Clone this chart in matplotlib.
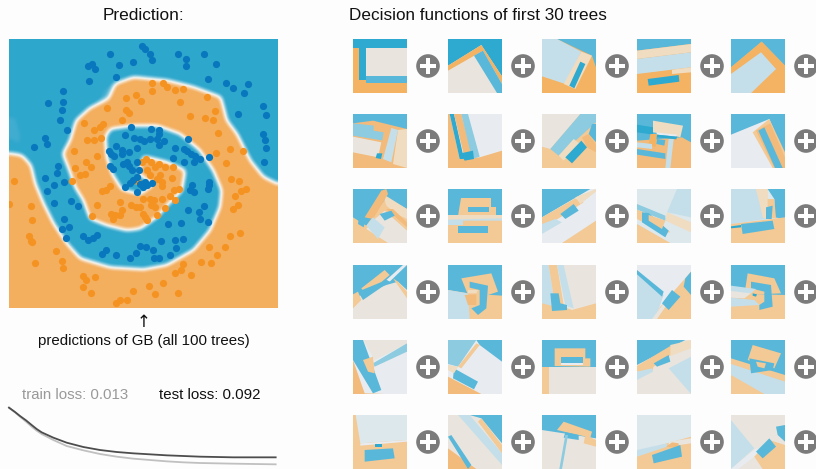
import matplotlib
matplotlib.use("Agg")
import matplotlib.pyplot as plt
import numpy as np
from matplotlib.patches import Polygon, Circle, Rectangle
from matplotlib.path import Path
from matplotlib.colors import LinearSegmentedColormap

W, H = 816, 469
BG = "#fdfdfd"
plt.rcParams["font.family"] = ["Liberation Sans", "DejaVu Sans"]

# palette
B = "#2ea9cf"; b = "#59b8d9"; m = "#8ccbe0"; l = "#c5dfea"; g = "#dde8ec"
p = "#e9e5de"; w = "#e8ecf0"; O = "#f4b263"; Q = "#f3bb7b"; o = "#f3c995"; c = "#f0dcc0"

blue_pts = [(427,47),(435,55),(450,70),(454,88),(330,72),(532,71),(558,87),(557,106),(610,71),(646,102),(398,94),(358,105),(276,100),(265,107),(284,117),(349,140),(266,151),(624,147),(676,158),(697,174),(743,160),(730,187),(190,183),(190,216),(144,219),(185,240),(180,268),(201,300),(789,227),(796,253),(712,250),(789,311),(793,329),(798,353),(792,394),(136,322),(142,342),(101,351),(173,406),(172,427),(134,444),(192,456),(161,463),(141,481),(163,519),(212,512),(235,527),(193,565),(185,597),(208,589),(199,623),(250,618),(264,629),(278,622),(292,615),(305,671),(318,659),(347,673),(390,682),(408,668),(421,648),(438,649),(459,660),(460,684),(475,683),(482,633),(508,673),(525,628),(528,652),(549,627),(503,581),(541,578),(563,538),(597,546),(598,566),(624,574),(611,527),(575,465),(570,478),(580,485),(622,475),(627,456),(625,465),
(393,291),(452,297),(476,298),(475,310),(376,315),(402,322),(420,326),(432,332),(450,326),(470,325),(490,333),(476,345),(563,325),(348,346),(326,362),(365,360),(365,372),(388,366),(410,352),(334,372),(342,378),(330,406),(340,416),(525,354),(550,355),(560,362),(572,370),(585,377),(600,386),(626,380),(519,384),(552,395),(582,395),
(380,395),(370,400),(388,408),(412,395),(395,420),(418,420),(410,440),(400,450),(375,470),(390,458),(420,460),(435,455),(455,458),(430,470),(410,486),(440,465)]

orange_pts = [(455,158),(488,159),(500,170),(524,178),(549,175),(454,183),(619,201),(540,216),(645,243),(570,256),(615,264),(638,268),(654,308),(647,367),(689,355),(727,362),(678,398),(691,445),(717,451),(737,475),(722,482),(705,498),(712,525),(698,535),(720,608),(689,617),(627,649),(673,650),(650,674),(633,697),(602,696),(549,701),(543,720),(524,728),(572,735),(489,757),(445,766),(400,782),(465,791),(533,788),(380,808),(360,810),(348,818),(284,740),(250,738),(258,748),(249,769),(273,788),(186,692),(188,714),(105,697),(168,661),(97,635),(87,618),(92,633),(97,570),(94,528),(43,451),(27,521),
(378,204),(407,195),(422,212),(322,233),(378,238),(388,249),(366,268),(310,280),(300,290),(282,300),(253,279),(262,330),(282,330),(302,324),(222,362),(290,377),(224,413),(259,395),(274,411),(240,433),(256,430),(215,451),(306,482),(318,480),(330,467),(290,523),(277,556),(332,550),(345,555),(340,567),(360,555),(367,540),(359,515),(392,525),(408,530),(420,530),(430,550),(435,560),(440,570),(470,555),(495,533),(430,507),(448,505),(460,510),(452,525),(465,530),(485,505),(510,497),(525,510),(520,480),(535,475),(515,442),(518,410),
(436,385),(425,395),(452,395),(475,400),(465,410),(495,410),(440,420),(450,435),(480,435),(470,445),(485,455),(485,468),(412,452)]

orange_region = [(20,368),(65,375),(92,405),(105,460),(130,520),(160,580),(200,640),(240,685),(330,712),(430,718),(500,705),(580,660),(630,600),(660,530),(665,480),(640,420),(600,360),(540,310),(470,285),(400,285),(330,295),(315,320),(320,380),(335,430),(365,478),(420,492),(462,462),(415,430),(430,378),(500,395),(555,420),(545,480),(505,520),(470,560),(420,595),(380,600),(320,585),(270,565),(250,510),(225,470),(208,420),(188,370),(210,330),(228,270),(270,232),(325,205),(345,160),(400,140),(500,150),(580,170),(662,200),(680,270),(710,310),(750,390),(790,440),(840,465),(840,840),(20,840)]
pale_patch = [(20,255),(50,250),(70,320),(60,355),(20,325)]
pale_patch_2 = [(300,175),(340,155),(325,205),(300,220)]

loss_x = [27,45,60,78,95,110,125,160,200,250,300,350,400,450,500,550,600,700,827]
test_loss = [293,306,318,331,345,357,367,383,398,411,420,426,430,433,436,438,440,442,442]
train_loss = [293,307,320,335,350,362,372,390,408,421,432,440,446,450,454,457,459,461,463]

tile_x = [353, 448, 542, 637, 731]
tile_y = [39, 114, 189, 265, 340, 415]

tile_00 = (O, [(B,[(0,0),(162,0),(162,27),(0,27)]),(B,[(18,27),(40,27),(40,123),(18,123)]),(p,[(40,27),(162,27),(162,110),(40,110)]),(b,[(40,110),(162,110),(162,132),(40,132)])])
tile_01 = (p, [(B,[(0,0),(162,0),(162,112),(100,18),(0,80)]),(O,[(0,80),(100,18),(162,112),(162,135),(105,35),(0,95)]),(b,[(78,50),(105,35),(162,135),(162,162),(147,162)])])
tile_02 = (O, [(b,[(45,0),(162,0),(162,85),(150,50)]),(l,[(0,0),(45,0),(118,38),(70,135),(0,112)]),(c,[(118,38),(150,50),(100,150),(65,135)]),(B,[(115,68),(130,75),(97,148),(82,140)])])
tile_03 = (O, [(b,[(0,0),(162,0),(162,15),(0,35)]),(c,[(0,35),(162,15),(162,40),(0,60)]),(l,[(0,60),(162,40),(162,85),(105,92),(0,105)]),(c,[(105,92),(162,85),(162,100),(105,105)]),(B,[(32,120),(125,108),(127,128),(35,140)])])
tile_04 = (Q, [(b,[(0,0),(162,0),(162,80),(92,8),(0,85)]),(O,[(0,85),(92,8),(162,80),(162,162),(62,162),(135,90),(90,40),(0,105)]),(l,[(0,105),(90,40),(135,90),(60,162),(0,162)])])
tile_05 = (Q, [(b,[(0,0),(162,0),(162,45),(60,20),(0,28)]),(m,[(0,28),(65,35),(95,45),(92,80),(0,65)]),(p,[(0,68),(85,85),(75,130),(0,115)]),(Q,[(62,22),(115,38),(95,130),(80,130),(92,55),(62,50)]),(c,[(135,48),(162,45),(162,162),(120,150)]),(l,[(115,42),(135,48),(115,145),(90,135)]),(B,[(72,118),(88,118),(84,135),(68,132)])])
tile_06 = (w, [(Q,[(0,0),(5,0),(35,135),(95,130),(162,110),(162,162),(0,162)]),(B,[(5,0),(18,0),(48,135),(35,135)]),(Q,[(18,0),(40,0),(70,115),(48,125)]),(m,[(40,0),(60,0),(95,128),(72,135)]),(B,[(38,118),(75,110),(78,135),(50,140)])])
tile_07 = (o, [(p,[(0,0),(115,0),(25,105),(0,98)]),(m,[(115,0),(162,0),(162,25),(50,125),(25,105)]),(b,[(150,30),(162,30),(162,85),(140,60)]),(c,[(50,125),(95,75),(115,90),(65,140)]),(Q,[(120,70),(140,60),(162,90),(162,115),(135,100)]),(B,[(70,130),(118,80),(135,100),(90,148)])])
tile_08 = (Q, [(b,[(0,0),(162,0),(162,85),(135,70),(0,80)]),(B,[(0,32),(50,40),(48,62),(0,55)]),(c,[(48,20),(138,35),(130,70),(100,62),(48,55)]),(O,[(40,60),(60,60),(55,100),(35,90)]),(w,[(58,55),(120,62),(118,68),(60,62)]),(B,[(60,62),(120,68),(118,76),(60,70)]),(b,[(60,75),(85,78),(82,95),(58,90)]),(l,[(95,75),(110,75),(100,162),(85,162)]),(l,[(0,85),(45,90),(45,105),(0,100)]),(b,[(0,105),(85,118),(85,135),(0,122)])])
tile_09 = (w, [(b,[(0,0),(162,0),(162,125),(115,15),(0,62)]),(o,[(65,55),(115,15),(162,115),(162,162),(125,162)]),(Q,[(75,50),(118,28),(162,130),(162,162),(130,162)]),(b,[(82,50),(100,40),(155,162),(132,162)])])
tile_10 = (o, [(b,[(0,0),(162,0),(162,60),(100,25),(40,110),(0,85)]),(c,[(90,15),(162,60),(162,90),(130,75),(100,50)]),(Q,[(35,85),(85,5),(100,0),(105,15),(60,90)]),(p,[(60,95),(95,65),(162,125),(162,162),(105,162),(40,120)]),(l,[(40,110),(60,85),(95,115),(75,150)]),(Q,[(100,60),(120,60),(162,100),(162,115)]),(b,[(80,75),(115,65),(125,80),(95,95)]),(b,[(18,85),(38,90),(32,115),(15,105)])])
tile_11 = (o, [(b,[(0,0),(162,0),(162,80),(0,80)]),(o,[(40,28),(130,28),(130,55),(145,55),(145,80),(30,80)]),(b,[(60,55),(122,55),(122,70),(60,70)]),(c,[(0,78),(162,78),(162,92),(0,92)]),(l,[(0,92),(162,88),(162,95),(45,95),(45,108),(0,108)]),(b,[(30,110),(120,110),(120,132),(30,132)])])
tile_12 = (w, [(o,[(60,162),(162,95),(162,162)]),(b,[(0,0),(145,0),(0,85)]),(o,[(0,85),(100,28),(125,40),(50,88),(38,95),(0,125)]),(l,[(0,105),(40,90),(60,100),(0,135)]),(b,[(55,75),(95,45),(110,65),(70,90)]),(c,[(100,25),(162,0),(162,8),(115,45)])])
tile_13 = (g, [(l,[(120,0),(162,0),(162,85),(90,70)]),(c,[(90,70),(162,100),(162,130),(85,95)]),(o,[(0,105),(100,162),(0,162)]),(m,[(0,45),(85,80),(85,95),(0,62)]),(o,[(0,62),(20,70),(95,125),(100,130),(75,130),(0,90)]),(b,[(15,70),(35,72),(95,125),(85,145),(15,100)]),(o,[(35,78),(85,95),(75,120),(35,95)])])
tile_14 = (g, [(l,[(0,0),(75,0),(105,90),(0,105)]),(c,[(75,0),(110,0),(110,88),(95,88)]),(b,[(110,0),(162,0),(162,90),(130,85),(130,30)]),(o,[(110,30),(130,30),(135,88),(110,88)]),(b,[(105,55),(125,50),(122,90),(105,90)]),(o,[(0,105),(162,85),(162,162),(0,162)]),(b,[(30,105),(125,95),(130,120),(35,135)]),(B,[(0,112),(30,108),(30,115),(0,118)])])
tile_15 = (p, [(b,[(0,0),(162,0),(162,75),(135,50),(100,60),(0,100)]),(w,[(100,45),(150,0),(162,0),(110,50)]),(o,[(25,70),(95,15),(110,30),(40,90)]),(o,[(120,40),(135,50),(162,80),(162,100)]),(b,[(15,80),(100,45),(110,50),(30,105)]),(o,[(0,88),(15,80),(25,105),(0,130)])])
tile_16 = (o, [(b,[(0,0),(162,0),(162,92),(60,85),(0,75)]),(l,[(0,75),(60,85),(65,162),(0,162)]),(o,[(40,40),(130,25),(150,80),(120,90),(60,90)]),(b,[(65,50),(120,62),(115,130),(90,150),(70,130),(95,120),(95,75),(65,68)]),(c,[(60,75),(90,75),(85,85),(60,85)]),(Q,[(50,90),(85,88),(85,120),(60,120)])])
tile_17 = (p, [(o,[(0,100),(90,135),(162,115),(162,162),(0,162)]),(l,[(0,0),(20,0),(40,125),(0,115)]),(o,[(20,0),(45,0),(65,120),(40,125)]),(l,[(45,0),(65,0),(95,130),(70,122)]),(b,[(25,85),(50,85),(55,115),(75,120),(75,135),(30,138)])])
tile_18 = (w, [(l,[(0,25),(80,90),(55,162),(0,162)]),(o,[(70,125),(105,85),(162,20),(162,162),(50,162)]),(p,[(45,162),(95,95),(110,90),(60,162)]),(b,[(145,40),(162,20),(162,90),(140,65)]),(b,[(0,15),(80,80),(75,95),(0,28)]),(b,[(75,115),(105,75),(130,95),(95,135)])])
tile_19 = (o, [(b,[(0,0),(162,0),(162,90),(0,85)]),(o,[(50,25),(130,40),(150,85),(40,90)]),(b,[(60,50),(120,60),(125,125),(85,135),(85,120),(100,110),(100,80),(60,70)]),(l,[(0,62),(75,72),(60,85),(0,85)]),(p,[(0,78),(60,85),(40,100),(0,98)]),(l,[(0,98),(70,105),(85,120),(0,125)]),(B,[(65,85),(78,88),(75,95),(65,92)])])
tile_20 = (w, [(p,[(30,0),(162,0),(162,12),(65,60)]),(Q,[(0,60),(35,160),(95,162),(0,162)]),(b,[(0,0),(30,0),(85,150),(60,160),(0,60)]),(m,[(60,70),(162,10),(162,35),(65,80)]),(o,[(30,60),(60,50),(65,100),(45,95)])])
tile_21 = (w, [(m,[(0,0),(85,0),(30,80),(0,72)]),(b,[(85,0),(162,0),(162,65),(95,15)]),(o,[(30,80),(85,10),(95,15),(40,85)]),(Q,[(0,110),(100,162),(0,162)]),(b,[(18,85),(90,125),(78,148),(15,115)]),(c,[(0,75),(30,80),(18,100),(0,90)])])
tile_22 = (o, [(b,[(0,0),(162,0),(162,80),(0,80)]),(o,[(38,25),(130,25),(130,55),(145,55),(145,80),(38,78)]),(b,[(58,50),(122,50),(122,68),(58,68)]),(w,[(58,70),(122,70),(122,75),(58,75)]),(p,[(20,80),(162,80),(162,162),(20,162)])])
tile_23 = (p, [(l,[(95,85),(162,50),(162,162)]),(b,[(0,0),(145,0),(0,75)]),(c,[(100,15),(162,0),(162,25),(95,50)]),(o,[(0,78),(100,18),(100,45),(50,80),(45,95),(0,95)]),(l,[(0,95),(45,85),(48,95),(0,120)]),(b,[(50,70),(95,45),(100,65),(60,80)])])
tile_24 = (l, [(b,[(0,0),(162,0),(162,110),(0,60)]),(o,[(65,15),(150,40),(130,85),(50,60)]),(o,[(0,55),(162,105),(162,125),(0,72)]),(b,[(55,55),(130,70),(125,90),(60,100)]),(o,[(75,65),(105,70),(100,85),(80,80)]),(o,[(0,105),(100,162),(0,162)])])
tile_25 = (g, [(o,[(0,0),(8,0),(22,85),(162,75),(162,162),(0,162)]),(b,[(35,105),(120,100),(125,130),(35,140)]),(w,[(22,85),(162,75),(162,80),(22,92)]),(B,[(65,88),(88,88),(88,95),(65,95)])])
tile_26 = (p, [(l,[(30,0),(65,0),(162,115),(162,150)]),(b,[(65,0),(162,0),(162,85),(100,10)]),(o,[(90,20),(100,10),(162,90),(162,115)]),(Q,[(0,100),(85,162),(0,162)]),(b,[(0,65),(10,60),(70,150),(60,162)])])
tile_27 = (p, [(b,[(0,0),(162,0),(162,70),(0,45)]),(o,[(65,20),(150,50),(145,68),(45,45)]),(b,[(70,52),(110,60),(110,75),(65,68)]),(o,[(130,60),(162,75),(162,95),(125,85)]),(m,[(70,60),(78,60),(60,162),(52,162)])])
tile_28 = (g, [(o,[(0,110),(162,65),(162,162),(0,162)]),(l,[(0,105),(90,85),(90,95),(0,125)]),(p,[(95,80),(162,70),(162,85),(95,95)]),(Q,[(88,95),(105,82),(125,85),(125,100)]),(b,[(45,120),(130,90),(135,125),(50,145)])])
tile_29 = (p, [(l,[(0,15),(70,100),(0,162)]),(w,[(0,162),(75,100),(95,105),(22,162)]),(o,[(70,125),(115,75),(162,90),(162,162),(95,162)]),(b,[(135,35),(162,30),(162,80),(140,60)]),(b,[(75,110),(115,70),(135,95),(95,130)])])

tiles = [tile_00, tile_01, tile_02, tile_03, tile_04, tile_05, tile_06, tile_07, tile_08, tile_09,
         tile_10, tile_11, tile_12, tile_13, tile_14, tile_15, tile_16, tile_17, tile_18, tile_19,
         tile_20, tile_21, tile_22, tile_23, tile_24, tile_25, tile_26, tile_27, tile_28, tile_29]

fig = plt.figure(figsize=(W / 100, H / 100), dpi=100, facecolor=BG)

def px_axes(x0, y0, x1, y1, **kw):
    return fig.add_axes([x0 / W, 1 - y1 / H, (x1 - x0) / W, (y1 - y0) / H], **kw)

def soften(field, radius, passes=3):
    kernel = np.ones(2 * radius + 1) / (2 * radius + 1)
    out = field
    for _ in range(passes):
        for axis in (0, 1):
            pad = [(radius, radius) if i == axis else (0, 0) for i in (0, 1)]
            padded = np.pad(out, pad, mode="edge")
            out = np.apply_along_axis(lambda v: np.convolve(v, kernel, mode="valid"), axis, padded)
    return out

# overlay in pixel coordinates
base = fig.add_axes([0, 0, 1, 1], facecolor="none")
base.set_xlim(0, W); base.set_ylim(H, 0); base.axis("off")

# main prediction panel
ax = px_axes(9, 39, 278, 308)
ax.set_xlim(27, 833); ax.set_ylim(833, 26); ax.axis("off")
gx, gy = np.meshgrid(np.linspace(27, 833, 538), np.linspace(26, 833, 538))
grid = np.column_stack([gx.ravel(), gy.ravel()])
inside = Path(orange_region).contains_points(grid).reshape(gx.shape).astype(float)
pale = (Path(pale_patch).contains_points(grid) | Path(pale_patch_2).contains_points(grid)).reshape(gx.shape).astype(float)
field = soften(inside, 5) + 0.10 * soften(pale, 6) * (1 - inside)
cmap = LinearSegmentedColormap.from_list("pred", [(0, "#2fa7cd"), (0.06, "#2fa7cd"), (0.5, "#f8f7f3"), (0.92, "#f3ae5f"), (1, "#f3ae5f")])
ax.imshow(field, cmap=cmap, vmin=0, vmax=1, extent=(27, 833, 833, 26), aspect="auto", interpolation="bilinear")
ax.set_xlim(27, 833); ax.set_ylim(833, 26)
ax.scatter(*zip(*orange_pts), s=27, c="#f59322", lw=0, zorder=3)
ax.scatter(*zip(*blue_pts), s=27, c="#0877bd", lw=0, zorder=4)

# tree tiles
k = 0
for ty in tile_y:
    for tx in tile_x:
        bgc, polys = tiles[k]; k += 1
        a = px_axes(tx, ty, tx + 54, ty + 54)
        a.set_xlim(0, 162); a.set_ylim(162, 0); a.axis("off")
        a.add_patch(Rectangle((0, 0), 162, 162, fc=bgc, ec="none"))
        for col, pts in polys:
            a.add_patch(Polygon(pts, fc=col, ec="none"))
        base.add_patch(Circle((tx + 75, ty + 27), 11.8, fc="#7b7b7b", ec="none"))
        base.add_patch(Rectangle((tx + 67, ty + 25), 16, 4, fc="white", ec="none"))
        base.add_patch(Rectangle((tx + 73, ty + 19), 4, 16, fc="white", ec="none"))

# loss curves
lax = px_axes(0, 310, 290, 469)
lax.set_xlim(0, 870); lax.set_ylim(477, 0); lax.axis("off")
lax.plot(loss_x, train_loss, color="#c0c0c0", lw=1.3)
lax.plot(loss_x, test_loss, color="#4d4d4d", lw=1.3)

# text
base.text(143.5, 15.5, "Prediction:", ha="center", va="center", fontsize=12.4, color="#111111")
base.text(349, 15.5, "Decision functions of first 30 trees", ha="left", va="center", fontsize=12.3, color="#111111")
base.text(143.5, 322, "↑", ha="center", va="center", fontsize=12, color="#111111", family=["DejaVu Sans"])
base.text(143.5, 341, "predictions of GB (all 100 trees)", ha="center", va="center", fontsize=10.8, color="#111111")
base.text(22, 395, "train loss: 0.013", ha="left", va="center", fontsize=10.8, color="#999999")
base.text(159, 395, "test loss: 0.092", ha="left", va="center", fontsize=10.8, color="#111111")

fig.savefig("out.png", dpi=100, facecolor=BG)
